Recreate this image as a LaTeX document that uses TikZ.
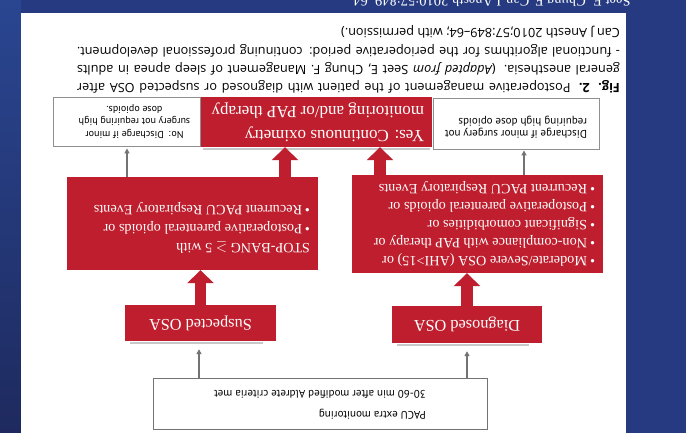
\documentclass[tikz,border=0pt]{standalone}
\usepackage{fontspec}
\setmainfont{Liberation Serif}
\newfontfamily\capfont{Open Sans}
\newfontfamily\boxfont{PT Sans}
\usetikzlibrary{arrows.meta}
\definecolor{bgblue}{RGB}{37,58,128}
\definecolor{bgdark}{RGB}{30,42,95}
\definecolor{bglight}{RGB}{42,70,145}
\definecolor{boxred}{RGB}{190,30,45}
\definecolor{linegray}{RGB}{115,115,115}
\definecolor{shadowgray}{RGB}{200,200,200}
\newcommand{\upsd}[1]{\rotatebox{180}{#1}}
\begin{document}
\begin{tikzpicture}[x=1pt,y=-1pt,
  redbox/.style={fill=boxred, text=white, inner sep=0pt, font=\fontsize{14.2}{18}\selectfont},
  whitebox/.style={draw=linegray!80, line width=0.9pt, fill=white, inner sep=0pt},
  thinarrow/.style={draw=linegray, line width=1.2pt, -{Triangle[length=5pt,width=5pt]}},
  thickarrow/.style={draw=boxred, line width=11.5pt, -{Triangle[length=13pt,width=26pt]}},
  shadowline/.style={draw=shadowgray, line width=2pt}]
\useasboundingbox (0,0) rectangle (686,433);
\fill[bgblue] (0,0) rectangle (686,433);
\shade[top color=bglight, bottom color=bgdark] (0,0) rectangle (21,433);
\fill[white] (21,13) rectangle (626,433);
% cut-off text at the top
\begin{scope}
\clip (0,0) rectangle (686,13);
\node[text=white, font=\fontsize{14.5}{14.5}\selectfont, inner sep=0pt] (toptext) at (492,0)
  {\upsd{Seet E, Chung F. Can J Anesth 2010;57:849--64}};
\end{scope}
% caption
\node[inner sep=0pt] (caption) at (348.5,59.5) {\upsd{\parbox{543pt}{\capfont\fontsize{12.7}{18.3}\selectfont
\makebox[543pt][s]{\textbf{Fig. 2.} Postoperative management of the patient with diagnosed or suspected OSA after}\\
\makebox[543pt][s]{general anesthesia. (\textit{Adapted from} Seet E, Chung F. Management of sleep apnea in adults}\\
\makebox[543pt][s]{- functional algorithms for the perioperative period: continuing professional development.}\\
Can J Anesth 2010;57:849–64; with permission.)}}};
% top row
\node[whitebox, minimum width=147pt, minimum height=49pt] (no) at (126.5,121.5)
  {\upsd{\parbox{125pt}{\centering\boxfont\fontsize{10}{12.5}\selectfont No:~~Discharge if minor\\surgery not requiring high\\dose opioids.}\hspace{16pt}}};
\node[redbox, minimum width=231pt, minimum height=50pt] (yes) at (316.5,122)
  {\upsd{\parbox{215pt}{\raggedright\fontsize{17}{24}\selectfont Yes: Continuous oximetry\\monitoring and/or PAP therapy}}};
\node[whitebox, minimum width=166pt, minimum height=51pt] (disch) at (516,123.5)
  {\upsd{\parbox{142pt}{\raggedright\boxfont\fontsize{11}{12}\selectfont Discharge if minor surgery not\\requiring high dose opioids\par\vspace{8pt}}}};
% middle row
\node[redbox, minimum width=251pt, minimum height=93pt] (stop) at (192.5,223.5)
  {\upsd{\parbox{235pt}{\raggedright STOP-BANG $\geq$ 5 with\\[1pt]
   \textbullet\hspace{3pt}Postoperative parenteral opioids or\\[1pt]
   \textbullet\hspace{3pt}Recurrent PACU Respiratory Events\par\vspace{8pt}}}};
\node[redbox, minimum width=251pt, minimum height=98pt] (crit) at (477.5,224)
  {\upsd{\parbox{235pt}{\raggedright
   \textbullet\hspace{3pt}Moderate/Severe OSA (AHI>15) or\\
   \textbullet\hspace{3pt}Non-compliance with PAP therapy or\\
   \textbullet\hspace{3pt}Significant comorbidities or\\
   \textbullet\hspace{3pt}Postoperative parenteral opioids or\\
   \textbullet\hspace{3pt}Recurrent PACU Respiratory Events}}};
% lower row
\node[redbox, minimum width=151pt, minimum height=36pt, font=\fontsize{16.3}{18}\selectfont] (susp) at (200.5,323) {\upsd{Suspected OSA}};
\node[redbox, minimum width=150pt, minimum height=37pt, font=\fontsize{16.3}{18}\selectfont] (diag) at (467,324.5) {\upsd{Diagnosed OSA}};
% bottom
\node[whitebox, draw=linegray, minimum width=334pt, minimum height=51pt] (pacu) at (320,403.5)
  {\upsd{\boxfont\fontsize{11}{12}\selectfont\begin{tabular}{@{}l@{}}PACU extra monitoring\\[9pt]30-60 min after modified Aldrete criteria met\end{tabular}}};
% shadows
\draw[shadowline] ([xshift=5pt,yshift=-1.5pt]susp.south west) -- ([xshift=-13pt,yshift=-1.5pt]susp.south east);
\draw[shadowline] ([xshift=5pt,yshift=-1.5pt]diag.south west) -- ([xshift=-13pt,yshift=-1.5pt]diag.south east);
\draw[shadowline] ([xshift=2pt,yshift=-1.5pt]yes.south west) -- ([xshift=-2pt,yshift=-1.5pt]yes.south east);
% helper x positions
\coordinate (yl) at (285,0);
\coordinate (yr) at (380,0);
\coordinate (nl) at (127,0);
\coordinate (dr) at (524,0);
\coordinate (pl) at (199,0);
\coordinate (pr) at (467,0);
% thick arrows
\draw[thickarrow] (susp.north) -- (stop.south -| susp.north);
\draw[thickarrow] (diag.north) -- (crit.south -| diag.north);
\draw[thickarrow] (stop.north -| yl) -- (yes.south -| yl);
\draw[thickarrow] (crit.north -| yr) -- (yes.south -| yr);
% thin arrows
\draw[thinarrow, shorten >=2pt] (stop.north -| nl) -- (no.south -| nl);
\draw[thinarrow, shorten >=1pt] (crit.north -| dr) -- (disch.south -| dr);
\draw[thinarrow, shorten >=8pt] (pacu.north -| pl) -- (susp.south -| pl);
\draw[thinarrow, shorten >=8pt] (pacu.north -| pr) -- (diag.south -| pr);
\end{tikzpicture}
\end{document}
